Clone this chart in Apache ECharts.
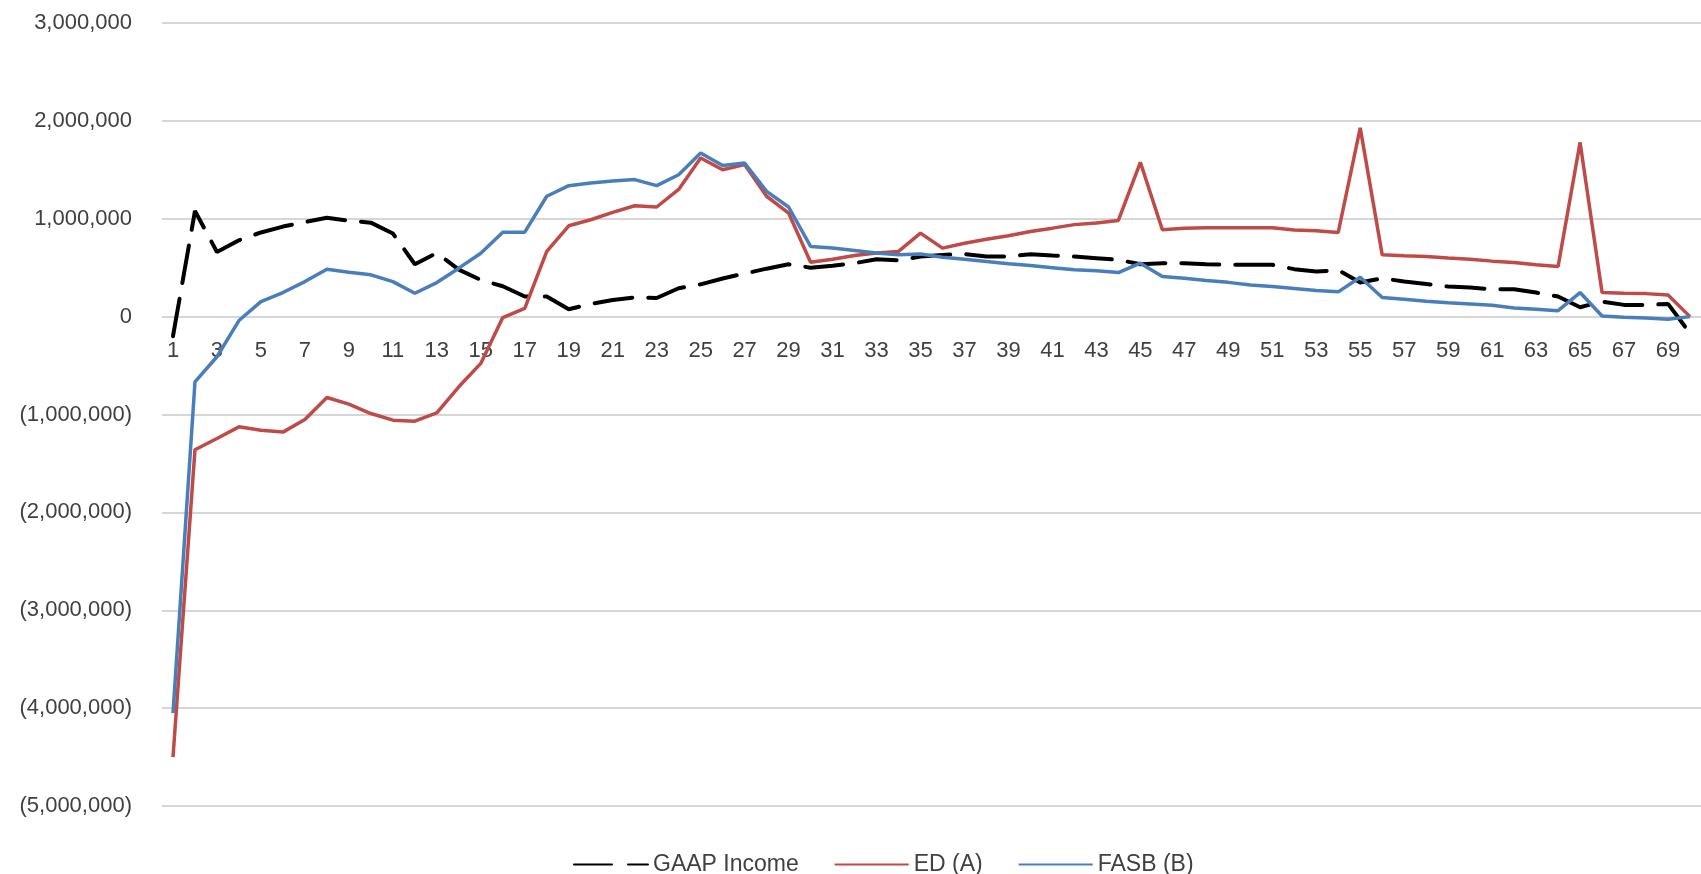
<!DOCTYPE html>
<html>
<head>
<meta charset="utf-8">
<script src="https://cdn.jsdelivr.net/npm/echarts@6/dist/echarts.min.js"></script>
<style>
html,body{margin:0;padding:0;background:#fff;}
#chart{width:1701px;height:874px;}
</style>
</head>
<body>
<div id="chart"></div>
<script>
const categories = Array.from({length: 70}, (_, i) => String(i + 1));

const gaapIncome = [-200000, 1080000, 660000, 780000, 860000, 920000, 966000, 1010000, 980000, 960000,
  850000, 535000, 650000, 480000, 375000, 310000, 205000, 205000, 75000, 130000,
  170000, 195000, 190000, 290000, 330000, 390000, 440000, 490000, 535000, 500000,
  520000, 546000, 587000, 575000, 614000, 630000, 640000, 614000, 614000, 638000,
  625000, 614000, 597000, 580000, 536000, 546000, 546000, 536000, 530000, 530000,
  530000, 485000, 460000, 475000, 348000, 392000, 358000, 334000, 307000, 297000,
  280000, 280000, 246000, 205000, 96000, 154000, 120000, 120000, 130000, -170000];

const edA = [-4500000, -1360000, -1245000, -1126000, -1160000, -1180000, -1050000, -826000, -894000, -990000,
  -1058000, -1068000, -983000, -717000, -478000, -10000, 85000, 666000, 928000, 990000,
  1065000, 1133000, 1120000, 1300000, 1620000, 1500000, 1553000, 1230000, 1058000, 556000,
  587000, 625000, 650000, 666000, 853000, 700000, 750000, 790000, 826000, 870000,
  904000, 940000, 956000, 983000, 1577000, 887000, 904000, 908000, 908000, 908000,
  908000, 885000, 877000, 860000, 1928000, 631000, 621000, 614000, 600000, 587000,
  567000, 553000, 529000, 512000, 1780000, 246000, 239000, 235000, 222000, 0];

const fasbB = [-4050000, -666000, -410000, -40000, 154000, 246000, 358000, 485000, 454000, 427000,
  358000, 239000, 348000, 495000, 648000, 863000, 863000, 1230000, 1338000, 1365000,
  1386000, 1400000, 1338000, 1450000, 1672000, 1543000, 1570000, 1280000, 1120000, 717000,
  700000, 676000, 650000, 631000, 640000, 607000, 587000, 563000, 540000, 522000,
  500000, 478000, 468000, 450000, 546000, 410000, 392000, 369000, 350000, 324000,
  307000, 288000, 266000, 253000, 403000, 195000, 177000, 157000, 143000, 130000,
  116000, 89000, 75000, 61000, 246000, 7000, -7000, -14000, -27000, 0];

const seriesNames = ['GAAP Income', 'ED (A)', 'FASB (B)'];

const Y_MIN = -5000000, Y_MAX = 3000000;

function fmt(v) {
  const s = Math.abs(v).toLocaleString('en-US');
  return v < 0 ? '(' + s + ')' : s;
}

const FONT = '"Liberation Sans", Arial, sans-serif';
const TEXT = '#404040';
const GRIDC = '#d6d6d6';
const GRID_H = 783;
// move the category axis up to the zero line
const zeroOffset = -GRID_H * (0 - Y_MIN) / (Y_MAX - Y_MIN);

const chart = echarts.init(document.getElementById('chart'), null, {renderer: 'canvas'});
chart.setOption({
  animation: false,
  backgroundColor: '#ffffff',
  grid: {left: 162, top: 23, width: 1549, height: GRID_H, containLabel: false},
  legend: {
    left: 568, top: 848,
    itemWidth: 74, itemHeight: 6, itemGap: 35,
    itemStyle: {opacity: 0},
    textStyle: {fontFamily: FONT, fontSize: 23, color: TEXT},
    data: seriesNames
  },
  xAxis: {
    type: 'category',
    data: categories,
    boundaryGap: true,
    position: 'bottom',
    offset: zeroOffset,
    axisLine: {show: false, onZero: false},
    axisTick: {show: false},
    axisLabel: {interval: 1, margin: 23, fontFamily: FONT, fontSize: 22, color: TEXT},
    splitLine: {show: false}
  },
  yAxis: {
    type: 'value',
    min: Y_MIN, max: Y_MAX, interval: 1000000,
    axisLine: {show: false},
    axisTick: {show: false},
    axisLabel: {margin: 30, fontFamily: FONT, fontSize: 22, color: TEXT, formatter: fmt},
    splitLine: {lineStyle: {color: GRIDC, width: 2}}
  },
  series: [
    {
      name: seriesNames[0], type: 'line', data: gaapIncome, symbol: 'none', symbolSize: 0,
      color: '#000000',
      lineStyle: {color: '#000000', width: 4, type: [38, 16], cap: 'round'}
    },
    {
      name: seriesNames[1], type: 'line', data: edA, symbol: 'none', symbolSize: 0,
      color: '#be4b48',
      lineStyle: {color: '#be4b48', width: 3.5}
    },
    {
      name: seriesNames[2], type: 'line', data: fasbB, symbol: 'none', symbolSize: 0,
      color: '#4a7ebb',
      lineStyle: {color: '#4a7ebb', width: 3.5}
    }
  ]
});
</script>
</body>
</html>
